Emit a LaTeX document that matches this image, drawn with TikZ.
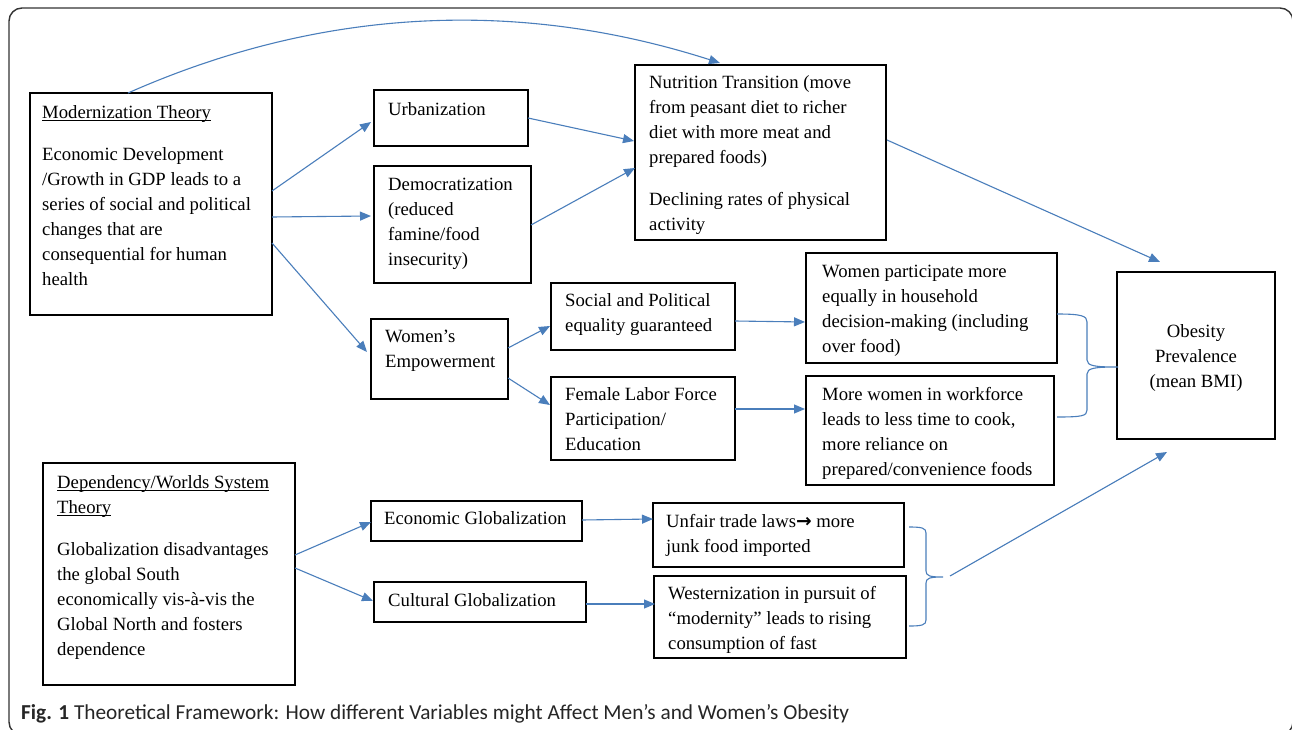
\documentclass[tikz,border=0pt]{standalone}
\usepackage{fontspec}
\setmainfont{Liberation Serif}
\newfontfamily\capfont{Carlito}
\newfontfamily\symfont{DejaVu Sans}
\usetikzlibrary{arrows.meta,calc}
\definecolor{arr}{HTML}{4A7EBB}
\newcommand{\hstrut}{\rule{0pt}{14pt}}
\newcommand{\ulx}[1]{\setbox0\hbox{#1}\rlap{\rule[-2.6pt]{\wd0}{0.9pt}}\box0}
\begin{document}
\begin{tikzpicture}[x=1pt,y=-1pt,
  box/.style n args={2}{draw=black,line width=1.1pt,inner sep=0pt,outer sep=0pt,anchor=north west,minimum width=#1pt,minimum height=#2pt},
  txt/.style={anchor=north west,inner sep=0pt,align=left,font=\fontsize{18.7}{25}\selectfont},
  conn/.style={draw=arr,line width=1.1pt,-{Triangle[length=11pt,width=9pt]}},
  brace/.style={draw=arr,line width=1.1pt}]
\useasboundingbox (0,0) rectangle (1292,730);
\fill[white] (0,0) rectangle (1292,730);
% outer frame
\draw[line width=1.4pt,black!80,rounded corners=13pt] (9,8) rectangle (1293,735);

% boxes
\node[box={242}{222}] (mod) at (30,93) {};
\node[box={154}{56}] (urb) at (374,90) {};
\node[box={157}{117}] (dem) at (374,166) {};
\node[box={251}{175}] (nut) at (635,65) {};
\node[box={137}{80}] (wem) at (371,319) {};
\node[box={184}{67}] (soc) at (551,283) {};
\node[box={184}{83}] (fem) at (551,377) {};
\node[box={251}{110}] (wpart) at (806,253) {};
\node[box={248}{109}] (mwork) at (806,376) {};
\node[box={158}{167}] (obe) at (1117,272) {};
\node[box={252}{222}] (dep) at (43,463) {};
\node[box={211}{40}] (eco) at (371,501) {};
\node[box={212}{40}] (cul) at (374,582) {};
\node[box={251}{64}] (unf) at (653,503) {};
\node[box={252}{82}] (wes) at (654,576) {};

% texts
\node[txt] (tmod) at (42,104) {\hstrut\ulx{Modernization Theory}\\[17pt]Economic Development\\/Growth in GDP leads to a\\series of social and political\\changes that are\\consequential for human\\health};
\node[txt] (turb) at (388,101) {\hstrut Urbanization};
\node[txt] (tdem) at (388,176) {\hstrut Democratization\\(reduced\\famine/food\\insecurity)};
\node[txt] (tnut) at (649,74) {\hstrut Nutrition Transition (move\\from peasant diet to richer\\diet with more meat and\\prepared foods)\\[17pt]Declining rates of physical\\activity};
\node[txt] (twem) at (385,328) {\hstrut Women’s\\Empowerment};
\node[txt] (tsoc) at (565,292) {\hstrut Social and Political\\equality guaranteed};
\node[txt] (tfem) at (565,386) {\hstrut Female Labor Force\\Participation/\\Education};
\node[txt] (twpart) at (822,263) {\hstrut Women participate more\\equally in household\\decision-making (including\\over food)};
\node[txt] (tmwork) at (822,386) {\hstrut More women in workforce\\leads to less time to cook,\\more reliance on\\prepared/convenience foods};
\node[txt,anchor=north,align=center] (tobe) at (1196,323) {\hstrut Obesity\\Prevalence\\(mean BMI)};
\node[txt] (tdep) at (57,474) {\hstrut\ulx{Dependency/Worlds System}\\\ulx{Theory}\\[17pt]Globalization disadvantages\\the global South\\economically vis-à-vis the\\Global North and fosters\\dependence};
\node[txt] (teco) at (384,510) {\hstrut Economic Globalization};
\node[txt] (tcul) at (388,592) {\hstrut Cultural Globalization};
\node[txt] (tunf) at (666,513) {\hstrut Unfair trade laws{\symfont\bfseries\fontsize{18.7}{25}\selectfont →} more\\junk food imported};
\node[txt] (twes) at (668,585) {\hstrut Westernization in pursuit of\\“modernity” leads to rising\\consumption of fast};

% connectors
\draw[conn] ($(mod.north west)+(98,0)$) .. controls (320,8) and (517,-2) .. ($(nut.north west)+(85,-2)$);
\draw[conn] ($(mod.north west)+(242,98)$) -- ($(urb.north west)+(-3,32)$);
\draw[conn] ($(mod.north west)+(242,124)$) -- ($(dem.north west)+(-3,50)$);
\draw[conn] ($(mod.north west)+(242,150)$) -- ($(wem.north west)+(-4,33)$);
\draw[conn] ($(urb.north west)+(154,28)$) -- ($(nut.north west)+(-1,76)$);
\draw[conn] ($(dem.north west)+(157,59)$) -- ($(nut.north west)+(0,103)$);
\draw[conn] ($(nut.north west)+(252,75)$) -- ($(obe.north west)+(43,-10)$);
\draw[conn] ($(wem.north west)+(137,29)$) -- ($(soc.north west)+(-1,43)$);
\draw[conn] ($(wem.north west)+(137,59)$) -- ($(fem.north west)+(-1,28)$);
\draw[conn] ($(soc.north west)+(184,38)$) -- ($(wpart.north west)+(-1,69)$);
\draw[conn] ($(fem.north west)+(184,32)$) -- ($(mwork.north west)+(-1,33)$);
\draw[conn] ($(dep.north west)+(252,92)$) -- ($(eco.north west)+(0,21)$);
\draw[conn] ($(dep.north west)+(252,105)$) -- ($(cul.north west)+(-1,19)$);
\draw[conn] ($(eco.north west)+(211,19)$) -- ($(unf.north west)+(0,16)$);
\draw[conn] ($(cul.north west)+(212,22)$) -- ($(wes.north west)+(1,28)$);

% braces
\draw[brace] (1057,314) .. controls (1082,314) and (1087,316) .. (1087,322) -- (1087,360) .. controls (1087,366) and (1095,367) .. (1118,367)
  .. controls (1095,367) and (1087,368) .. (1087,374) -- (1087,410) .. controls (1087,416) and (1082,417) .. (1057,417);
\draw[brace] (909,527) .. controls (922,527) and (926,528) .. (926,533) -- (926,571) .. controls (926,576) and (930,577) .. (943,577)
  .. controls (930,577) and (926,578) .. (926,583) -- (926,620) .. controls (926,625) and (922,626) .. (909,626);
\coordinate (btip) at (950,576);
\draw[conn] (btip) -- ($(obe.north west)+(50,180)$);

% caption
\node[anchor=base west,inner sep=0pt,font=\capfont\fontsize{21.3}{25}\selectfont,text=black!85] (cap) at (21,719) {\textbf{Fig. 1} Theoretical Framework: How different Variables might Affect Men’s and Women’s Obesity};
\end{tikzpicture}
\end{document}
